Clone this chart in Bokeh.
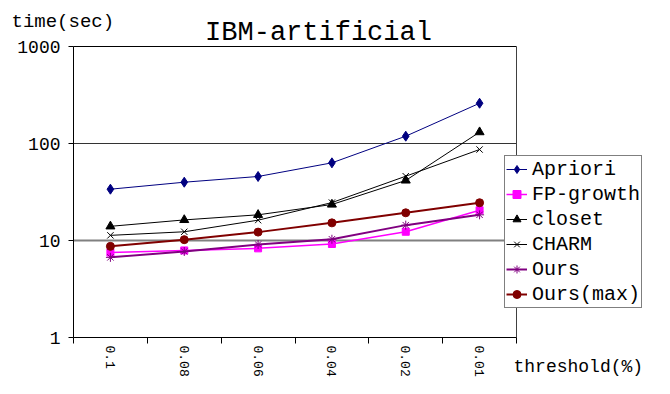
import math
from bokeh.plotting import figure
from bokeh.models import Range1d, FixedTicker, Legend, LegendItem, Label
from bokeh.embed import file_html
from bokeh.resources import INLINE

# ---- data ----
thresholds = ["0.1", "0.08", "0.06", "0.04", "0.02", "0.01"]
apriori = [33.8, 39.9, 45.7, 63.2, 119, 260]
fp_growth = [7.5, 7.9, 8.3, 9.2, 12.3, 20.5]
closet = [14.0, 16.3, 18.4, 23.5, 41.6, 131]
charm = [11.3, 12.3, 16.2, 24.6, 46.0, 86.7]
ours = [6.7, 7.7, 9.1, 10.3, 14.4, 18.4]
ours_max = [8.7, 10.2, 12.2, 15.2, 19.3, 24.5]
y_ticks = [1, 10, 100, 1000]
series_names = ["Apriori", "FP-growth", "closet", "CHARM", "Ours", "Ours(max)"]

FONT = "Liberation Mono"

# ---- layout (pixels) ----
W, H = 654, 378
PL, PR, PT, PB = 73, 516, 46, 337   # plot-area edges on the canvas

n = len(thresholds)
xs = [i + 0.5 for i in range(n)]
bounds = list(range(n + 1))

ux = (PR - PL) / n
ly0, ly1 = math.log10(y_ticks[0]), math.log10(y_ticks[-1])
uy = (PB - PT) / (ly1 - ly0)
x_range = Range1d(-PL / ux, n + (W - PR) / ux)
y_range = Range1d(10 ** (ly0 - (H - PB) / uy), 10 ** (ly1 + PT / uy))

p = figure(width=W, height=H, x_range=x_range, y_range=y_range,
           y_axis_type="log", output_backend="svg", toolbar_location=None,
           min_border=0)
p.title.visible = False
p.background_fill_color = "white"
p.border_fill_color = "white"
p.outline_line_color = None
p.xgrid.visible = False
p.ygrid.visible = False

# plot-area frame lines and grid lines
p.segment(x0=[0, 0, 0], y0=[y_ticks[1], y_ticks[2], y_ticks[3]],
          x1=[n, n, n], y1=[y_ticks[1], y_ticks[2], y_ticks[3]],
          line_color=["#808080", "#333333", "black"], line_width=[2, 1, 1])
p.segment(x0=[n], y0=[y_ticks[0]], x1=[n], y1=[y_ticks[-1]],
          line_color="#404040", line_width=1)

# y axis
ya = p.yaxis[0]
ya.fixed_location = 0
ya.bounds = (y_ticks[0], y_ticks[-1])
ya.ticker = FixedTicker(ticks=y_ticks)
ya.major_label_overrides = {t: str(t) for t in y_ticks}
ya.major_tick_out = 5
ya.major_tick_in = 0
ya.minor_tick_out = 0
ya.minor_tick_in = 0
ya.axis_line_color = "black"
ya.major_tick_line_color = "black"
ya.major_label_text_font = FONT
ya.major_label_text_font_size = "18px"
ya.major_label_text_color = "black"
ya.major_label_standoff = 8

# x axis
xa = p.xaxis[0]
xa.fixed_location = y_ticks[0]
xa.bounds = (0, n)
xa.ticker = FixedTicker(ticks=xs, minor_ticks=bounds)
xa.major_label_overrides = {x: lab for x, lab in zip(xs, thresholds)}
xa.major_tick_out = 0
xa.major_tick_in = 0
xa.minor_tick_out = 6
xa.minor_tick_in = 0
xa.minor_tick_line_color = "black"
xa.axis_line_color = "black"
xa.major_label_orientation = -math.pi / 2
xa.major_label_text_font = FONT
xa.major_label_text_font_size = "13px"
xa.major_label_text_color = "black"
xa.major_label_standoff = 2

styles = [
    (apriori, "#000080", "diamond", 10, 1),
    (fp_growth, "#FF00FF", "square", 7, 1.5),
    (closet, "black", "triangle", 9, 1),
    (charm, "black", "x", 9, 1),
    (ours, "#800080", "asterisk", 9, 2),
    (ours_max, "#800000", "circle", 8, 2),
]

items = []
for name, (vals, color, marker, size, lw) in zip(series_names, styles):
    lr = p.line(xs, vals, line_color=color, line_width=lw)
    sr = p.scatter(xs, vals, marker=marker, size=size, fill_color=color,
                   line_color=color, line_width=1)
    items.append(LegendItem(label=name, renderers=[lr, sr]))

legend = Legend(items=items, location=(504, H - 308))
legend.border_line_color = "black"
legend.border_line_width = 1
legend.background_fill_color = "white"
legend.background_fill_alpha = 1
legend.label_text_font = FONT
legend.label_text_font_size = "20px"
legend.label_text_color = "black"
legend.glyph_width = 21
legend.glyph_height = 20
legend.label_height = 24
legend.spacing = 1
legend.padding = 1
legend.margin = 0
legend.label_standoff = 5
p.add_layout(legend, "center")

p.add_layout(Label(x=318, y=H - 32, x_units="screen", y_units="screen",
                   text="IBM-artificial", text_font=FONT, text_font_size="27px",
                   text_align="center", text_baseline="alphabetic", text_color="black"))
p.add_layout(Label(x=11, y=H - 21, x_units="screen", y_units="screen",
                   text="time(sec)", text_font=FONT, text_font_size="19px",
                   text_align="left", text_baseline="alphabetic", text_color="black"))
p.add_layout(Label(x=513, y=12, x_units="screen", y_units="screen",
                   text="threshold(%)", text_font=FONT, text_font_size="18px",
                   text_align="left", text_baseline="alphabetic", text_color="black"))

open("out.html", "w").write(file_html(p, INLINE))
